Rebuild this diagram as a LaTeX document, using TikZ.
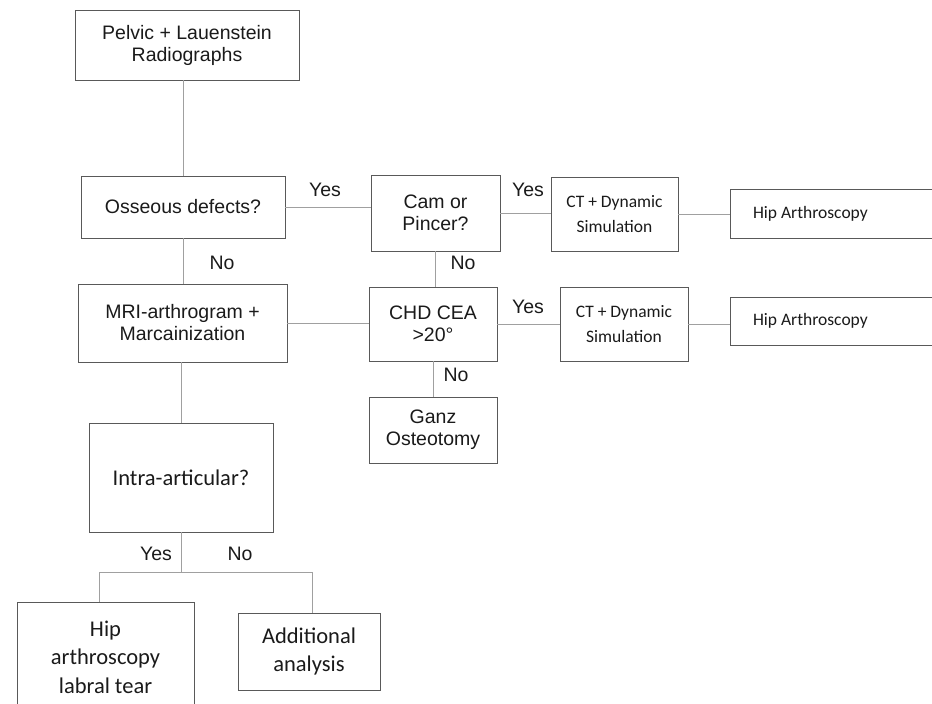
\documentclass[tikz,border=0pt]{standalone}
\usepackage{fontspec}
\setmainfont{Liberation Sans}
\newfontfamily\calibri{Carlito}
\usetikzlibrary{positioning}
\definecolor{boxgray}{HTML}{595959}
\definecolor{wiregray}{HTML}{A0A0A0}
\definecolor{inkgray}{HTML}{1A1A1A}

\begin{document}
\begin{tikzpicture}[x=1pt, y=-1pt,
    box/.style={rectangle, draw=boxgray, text=inkgray, line width=0.9pt, align=center, inner sep=0pt, font=\fontsize{19.5}{22}\selectfont},
    cbox/.style={box, font=\calibri\fontsize{17.5}{25}\selectfont},
    bigbox/.style={box, font=\calibri\fontsize{22.5}{28.5}\selectfont},
    ans/.style={inner sep=0pt, text=inkgray, font=\fontsize{19.5}{22}\selectfont},
    wire/.style={draw=wiregray, line width=0.9pt}]
        \useasboundingbox (0,0) rectangle (932,704);

        % Main column
        \node[box, minimum width=224, minimum height=70] at (187,45) (pelvic) {Pelvic + Lauenstein\\Radiographs};
        \node[box, minimum width=204, minimum height=62] at (183,207) (osseous) {Osseous defects?};
        \node[box, minimum width=209, minimum height=78] at (182.5,323) (mri) {MRI-arthrogram +\\Marcainization};
        \node[bigbox, minimum width=184, minimum height=109] at (181,477.5) (intra) {Intra-articular?};

        % Upper branch (Yes)
        \node[box, minimum width=129, minimum height=76] at (435.5,213) (cam) {Cam or\\Pincer?};
        \node[cbox, minimum width=127, minimum height=74] at (614.5,214) (ctA) {CT + Dynamic\\Simulation};
        \node[cbox, text width=174, inner xsep=23, align=flush left, minimum height=49] at (840,213.5) (hipA) {Hip Arthroscopy};

        % Lower branch (No)
        \node[box, minimum width=128, minimum height=74] at (433,324) (chd) {CHD CEA\\>20°};
        \node[cbox, minimum width=128, minimum height=74] at (624,324) (ctB) {CT + Dynamic\\Simulation};
        \node[cbox, text width=174, inner xsep=23, align=flush left, minimum height=48] at (840,321) (hipB) {Hip Arthroscopy};
        \node[box, minimum width=128, minimum height=66] at (433,430) (ganz) {Ganz\\Osteotomy};

        % Bottom leaves
        \node[bigbox, minimum width=177, minimum height=110] at (105.5,657) (hipC) {Hip\\arthroscopy\\labral tear};
        \node[bigbox, minimum width=142, minimum height=77] at (309,651.5) (extra) {Additional\\analysis};
        \coordinate[below=40pt of intra.south] (fork);

        % Connectors
        \draw[wire] (osseous.north) -- (osseous.north |- pelvic.south);
        \draw[wire] (osseous.south) -- (osseous.south |- mri.north);
        \draw[wire] (intra.north) -- (intra.north |- mri.south);
        \draw[wire] (osseous.east) -- (osseous.east -| cam.west);
        \draw[wire] (mri.east) -- (mri.east -| chd.west);
        \draw[wire] (cam.east) -- (cam.east -| ctA.west);
        \draw[wire] (ctA.east) -- (ctA.east -| hipA.west);
        \draw[wire] (cam.south) -- (cam.south |- chd.north);
        \draw[wire] (chd.east) -- (chd.east -| ctB.west);
        \draw[wire] (ctB.east) -- (ctB.east -| hipB.west);
        \draw[wire] (chd.south) -- (chd.south |- ganz.north);
        \draw[wire] (intra.south) -- (fork);
        \draw[wire] ([xshift=-6.5pt]hipC.north) |- (fork) -| ([xshift=3pt]extra.north);

        % Answers
        \node[ans] at (325,190) (yesA) {Yes};
        \node[ans] at (222,263) (noA) {No};
        \node[ans] at (528,190) (yesB) {Yes};
        \node[ans] at (463,263) (noB) {No};
        \node[ans] at (528,307) (yesC) {Yes};
        \node[ans] at (456,375) (noC) {No};
        \node[ans] at (156,554) (yesD) {Yes};
        \node[ans] at (240,554) (noD) {No};

    \end{tikzpicture}
\end{document}
